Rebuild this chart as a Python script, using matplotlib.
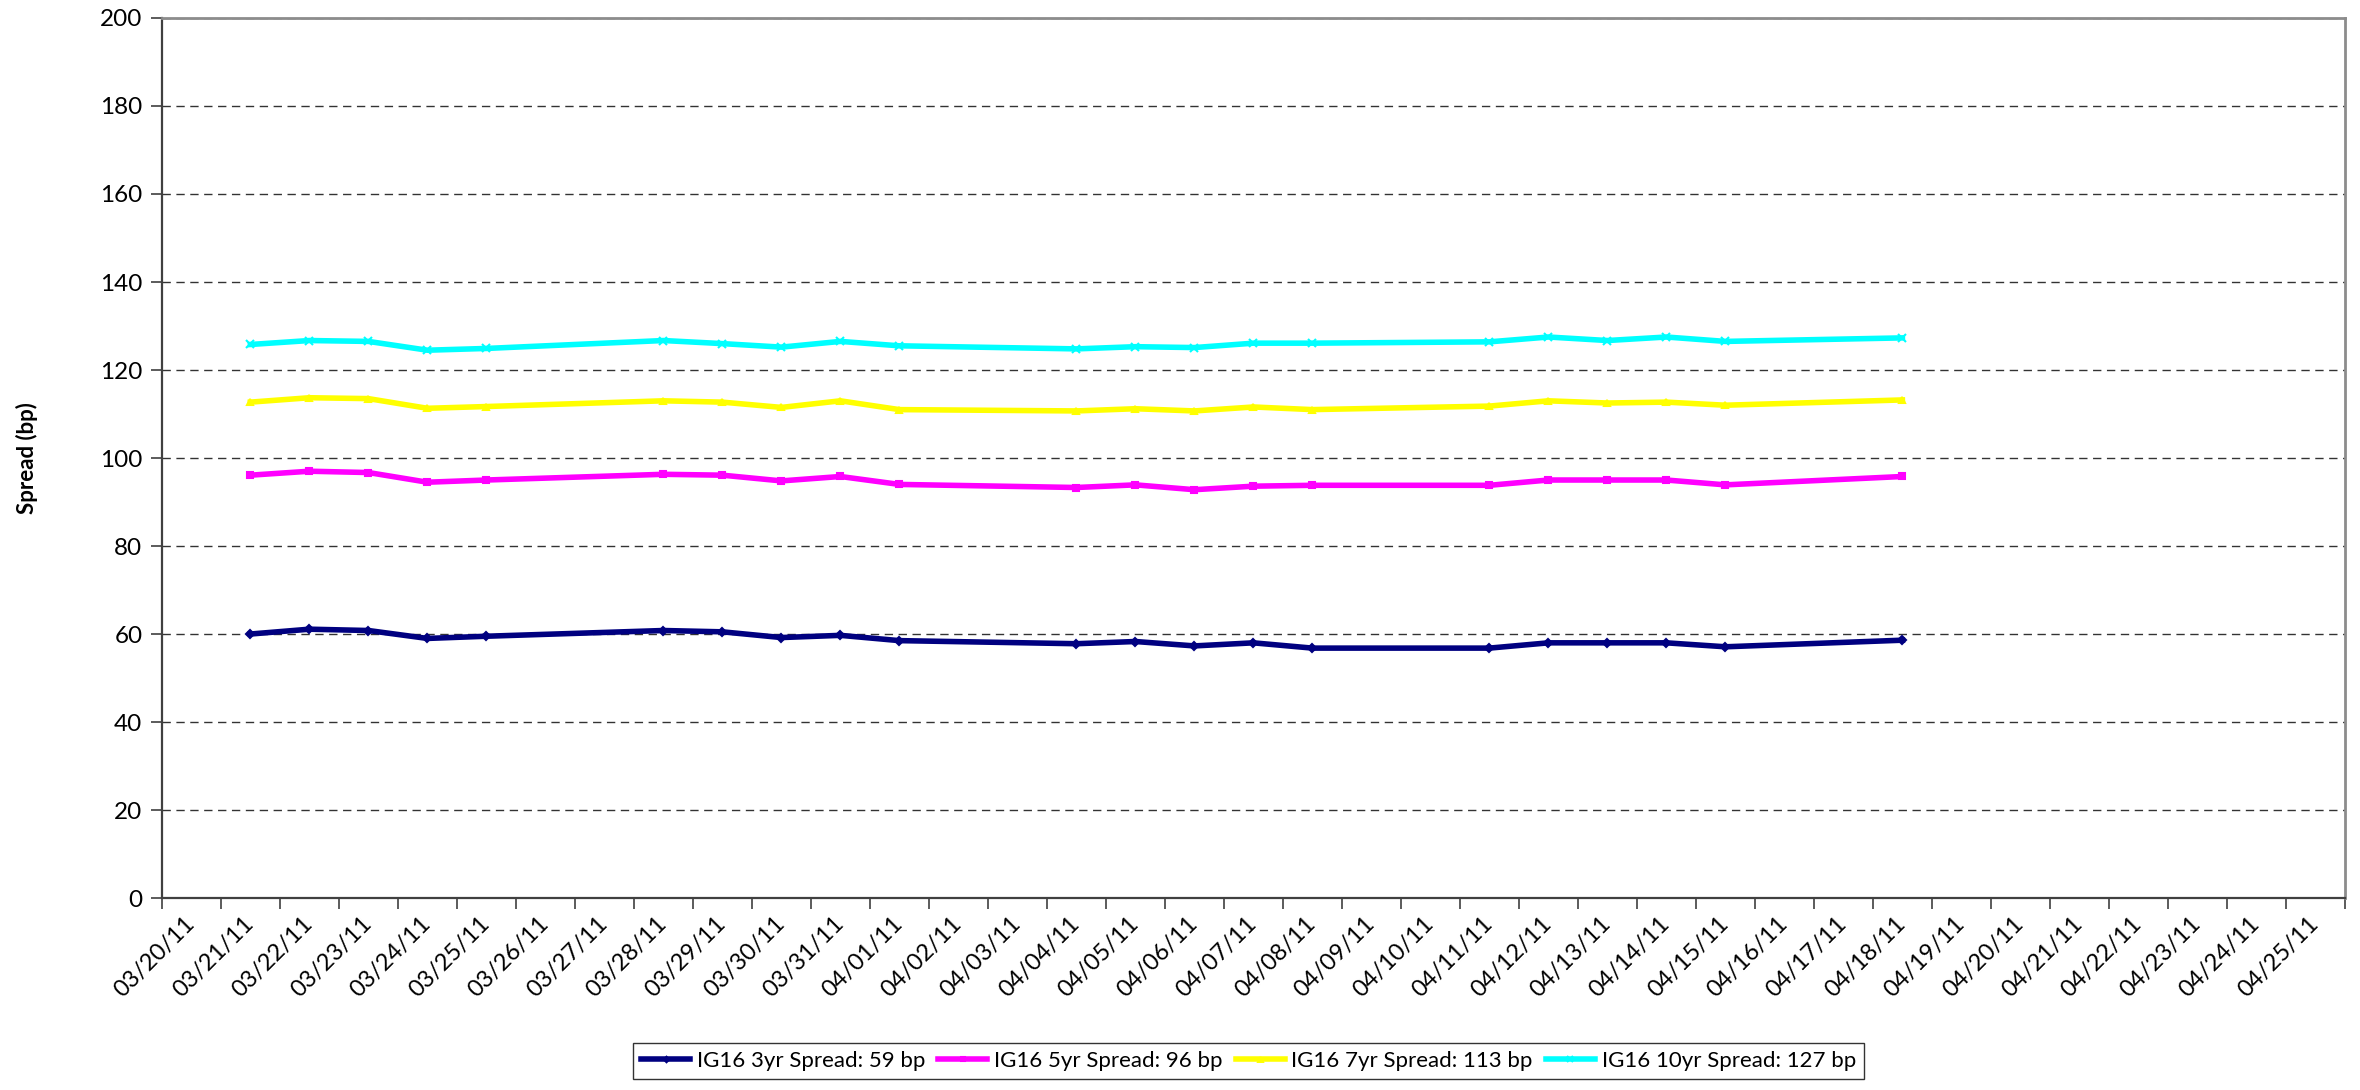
import pandas as pd
import numpy as np
import matplotlib
matplotlib.use("Agg")
import matplotlib.pyplot as plt
import matplotlib.dates as mdates

plt.rcParams['font.family'] = ['Lato', 'DejaVu Sans']

# business days with quotes
dates = ["2011-03-21", "2011-03-22", "2011-03-23", "2011-03-24", "2011-03-25",
         "2011-03-28", "2011-03-29", "2011-03-30", "2011-03-31", "2011-04-01",
         "2011-04-04", "2011-04-05", "2011-04-06", "2011-04-07", "2011-04-08",
         "2011-04-11", "2011-04-12", "2011-04-13", "2011-04-14", "2011-04-15",
         "2011-04-18"]
ig16_3yr = [60.0, 61.1, 60.8, 59.0, 59.5, 60.8, 60.5, 59.2, 59.7, 58.5, 57.8,
            58.3, 57.3, 58.0, 56.8, 56.8, 58.0, 58.0, 58.0, 57.1, 58.6]
ig16_5yr = [96.1, 97.0, 96.7, 94.5, 95.0, 96.3, 96.1, 94.8, 95.8, 94.0, 93.3,
            93.9, 92.8, 93.6, 93.8, 93.8, 95.0, 95.0, 95.0, 93.9, 95.8]
ig16_7yr = [112.7, 113.7, 113.5, 111.3, 111.7, 113.0, 112.7, 111.5, 113.0, 111.0, 110.7,
            111.2, 110.7, 111.6, 111.0, 111.8, 113.0, 112.5, 112.7, 112.0, 113.2]
ig16_10yr = [125.8, 126.7, 126.5, 124.5, 124.9, 126.7, 126.0, 125.2, 126.5, 125.5, 124.8,
             125.3, 125.1, 126.1, 126.1, 126.4, 127.5, 126.7, 127.5, 126.5, 127.3]

axis_start = "2011-03-20"
axis_end = "2011-04-25"

x = pd.to_datetime(dates)

fig = plt.figure(figsize=(23.6, 10.9), dpi=100)
ax = fig.add_axes([0.0686, 0.1761, 0.925, 0.8074])

series = [
    (ig16_3yr, "#000080", "D", 4, "IG16 3yr Spread: %d bp"),
    (ig16_5yr, "#FF00FF", "s", 5, "IG16 5yr Spread: %d bp"),
    (ig16_7yr, "#FFFF00", "^", 5, "IG16 7yr Spread: %d bp"),
    (ig16_10yr, "#00FFFF", "x", 6, "IG16 10yr Spread: %d bp"),
]
for vals, col, mk, ms, lab in series:
    ax.plot(x, vals, color=col, lw=4, marker=mk, ms=ms, mew=1.5,
            label=lab % round(vals[-1]), solid_joinstyle='round')

# y axis
ax.set_ylim(0, 200)
ax.set_yticks(np.arange(0, 201, 20))
ax.yaxis.grid(True, linestyle=(0, (6, 4)), color='#333333', lw=1.0)
ax.set_axisbelow(True)

# x axis: one label per day, tick marks between days
d0 = mdates.date2num(pd.Timestamp(axis_start))
d1 = mdates.date2num(pd.Timestamp(axis_end))
ax.set_xlim(d0 - 0.5, d1 + 0.5)
ax.set_xticks(np.arange(d0, d1 + 1))
ax.set_xticks(np.arange(d0 - 0.5, d1 + 1), minor=True)
ax.xaxis.set_major_formatter(mdates.DateFormatter("%m/%d/%y"))
ax.tick_params(axis='x', which='major', length=0, pad=16, labelsize=17)
ax.tick_params(axis='x', which='minor', length=8, width=1.2, color='#404040')
ax.tick_params(axis='y', length=8, width=1.2, color='#404040', labelsize=17.5, pad=6)
for t in ax.get_xticklabels():
    t.set_rotation(45)
    t.set_ha('right')
    t.set_va('center')
    t.set_rotation_mode('anchor')

ax.spines['left'].set_color('#404040')
ax.spines['bottom'].set_color('#404040')
ax.spines['left'].set_linewidth(1.6)
ax.spines['bottom'].set_linewidth(1.6)
ax.spines['top'].set_color('#8c8c8c')
ax.spines['right'].set_color('#8c8c8c')
ax.spines['top'].set_linewidth(2)
ax.spines['right'].set_linewidth(2)

fig.text(0.0114, 0.58, "Spread (bp)", rotation=90, fontsize=16, fontweight='bold',
         ha='center', va='center')

leg = fig.legend(loc='lower center', bbox_to_anchor=(0.529, 0.0), ncol=4,
                 fontsize=16, frameon=True, fancybox=False, edgecolor='black',
                 handlelength=2.2, handletextpad=0.3, columnspacing=0.6,
                 borderpad=0.35, markerscale=0.7)
leg.get_frame().set_linewidth(1.0)

fig.savefig("out.png", dpi=100)
